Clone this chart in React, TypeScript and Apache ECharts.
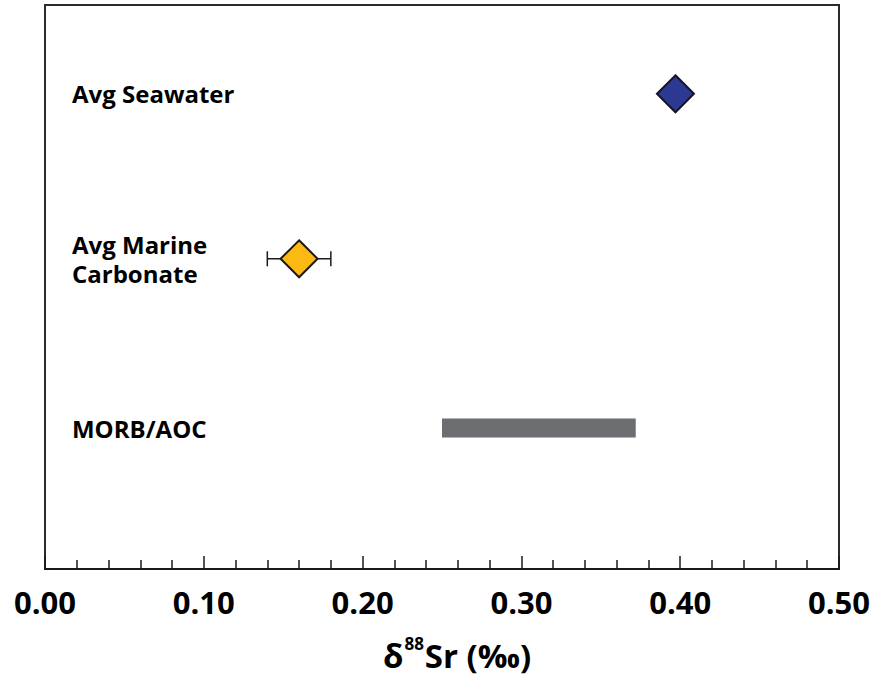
import React, { useEffect, useRef } from "react";
import * as echarts from "echarts";

// ---- data ----
const categories = ["Avg Seawater", "Avg Marine\nCarbonate", "MORB/AOC"];
const rowPositions = [3.37, 2.2, 1];
const seawaterValue = 0.397;
const carbonateValue = 0.16;
const carbonateError = [0.14, 0.18];
const morbRange = [0.25, 0.372];
const xTickValues = [0.0, 0.1, 0.2, 0.3, 0.4, 0.5];

const labelAnchor = 0.017;
const FONT = "'Open Sans', 'Noto Sans', sans-serif";

export default function App() {
  const ref = useRef<HTMLDivElement>(null);
  useEffect(() => {
    if (!ref.current) return;
    const chart = echarts.init(ref.current, null, { renderer: "svg" });
    const option: any = {
      animation: false,
      backgroundColor: "#ffffff",
      grid: {
        left: 45,
        right: 39,
        top: 5,
        bottom: 116,
        show: true,
        borderColor: "#2b2b2b",
        borderWidth: 2,
        backgroundColor: "transparent",
      },
      xAxis: {
        type: "value",
        min: xTickValues[0],
        max: xTickValues[xTickValues.length - 1],
        interval: 0.1,
        axisLine: { show: true, lineStyle: { color: "#1a1a1a", width: 2 } },
        axisTick: { show: true, inside: true, length: 13, lineStyle: { color: "#1a1a1a", width: 1.5 } },
        minorTick: { show: true, splitNumber: 5, length: 9, lineStyle: { color: "#1a1a1a", width: 1.5 } },
        splitLine: { show: false },
        axisLabel: {
          margin: 17,
          fontSize: 31,
          fontWeight: "bold",
          fontFamily: FONT,
          color: "#000",
          formatter: (v: number) => v.toFixed(2),
        },
      },
      yAxis: {
        type: "value",
        min: 0,
        max: 4,
        show: false,
        splitLine: { show: false },
      },
      graphic: [
        {
          type: "text",
          left: 383,
          top: 630,
          style: {
            text: "{a|δ}{s|88}{a|Sr (‰)}",
            rich: {
              a: { fontSize: 33, fontWeight: "bold", fontFamily: FONT, fill: "#000", lineHeight: 42, verticalAlign: "bottom" },
              s: { fontSize: 17, fontWeight: "bold", fontFamily: FONT, fill: "#000", lineHeight: 42, verticalAlign: "top", padding: [5, 1, 0, 1] },
            },
          },
        },
      ],
      series: [
        {
          type: "scatter",
          name: "labels",
          symbolSize: 0,
          silent: true,
          data: categories.map((c, i) => ({ value: [labelAnchor, rowPositions[i]], name: c })),
          label: {
            show: true,
            position: "right",
            distance: 0,
            formatter: (p: any) => p.name,
            fontSize: 24,
            fontWeight: "bold",
            fontFamily: FONT,
            color: "#000",
            opacity: 1,
            lineHeight: 29,
            align: "left",
            verticalAlign: "middle",
          },
          itemStyle: { opacity: 1 },
          z: 5,
        },
        {
          type: "custom",
          name: "MORB/AOC",
          data: [[morbRange[0], morbRange[1], rowPositions[2]]],
          encode: { x: [0, 1], y: 2 },
          renderItem: (params: any, api: any) => {
            const y = api.value(2);
            const a = api.coord([api.value(0), y]);
            const b = api.coord([api.value(1), y]);
            return {
              type: "rect",
              shape: { x: a[0], y: a[1] - 9.5, width: b[0] - a[0], height: 19 },
              style: { fill: "#6d6e72" },
            };
          },
          z: 2,
        },
        {
          type: "custom",
          name: "Carbonate error",
          data: [[carbonateError[0], carbonateError[1], rowPositions[1]]],
          encode: { x: [0, 1], y: 2 },
          renderItem: (params: any, api: any) => {
            const y = api.value(2);
            const a = api.coord([api.value(0), y]);
            const b = api.coord([api.value(1), y]);
            const st = { stroke: "#1a1a1a", lineWidth: 1.5 };
            return {
              type: "group",
              children: [
                { type: "line", shape: { x1: a[0], y1: a[1], x2: b[0], y2: b[1] }, style: st },
                { type: "line", shape: { x1: a[0], y1: a[1] - 7.5, x2: a[0], y2: a[1] + 7.5 }, style: st },
                { type: "line", shape: { x1: b[0], y1: b[1] - 7.5, x2: b[0], y2: b[1] + 7.5 }, style: st },
              ],
            };
          },
          z: 3,
        },
        {
          type: "scatter",
          name: "Avg Marine Carbonate",
          symbol: "diamond",
          symbolSize: 37,
          data: [[carbonateValue, rowPositions[1]]],
          itemStyle: { color: "#fdb913", borderColor: "#1a1a1a", borderWidth: 2, opacity: 1 },
          z: 4,
        },
        {
          type: "scatter",
          name: "Avg Seawater",
          symbol: "diamond",
          symbolSize: 37,
          data: [[seawaterValue, rowPositions[0]]],
          itemStyle: { color: "#2b3990", borderColor: "#141428", borderWidth: 2, opacity: 1 },
          z: 4,
        },
      ],
    };
    chart.setOption(option);
    return () => chart.dispose();
  }, []);
  return (
    <div
      ref={ref}
      style={{ position: "absolute", left: 0, top: 0, width: 878, height: 685, background: "#fff" }}
    />
  );
}
